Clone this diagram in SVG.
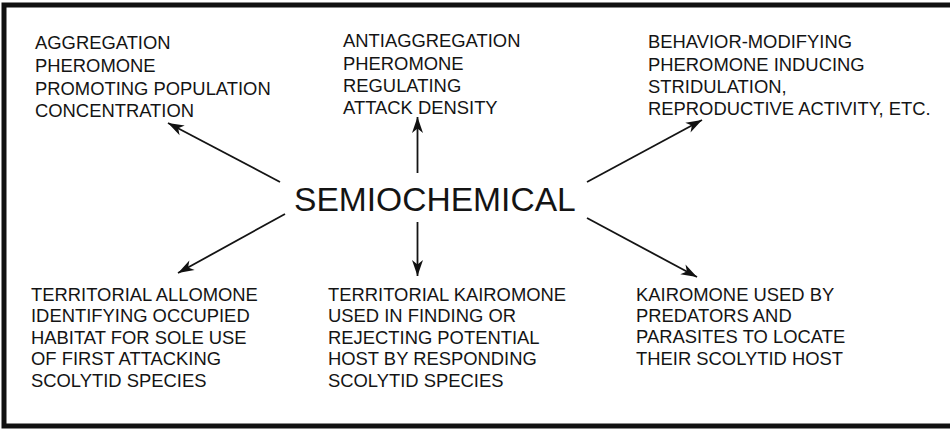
<svg xmlns="http://www.w3.org/2000/svg" width="950" height="429" viewBox="0 0 950 429">
<defs>
<marker id="ah" markerUnits="userSpaceOnUse" markerWidth="20" markerHeight="16" refX="0" refY="0" viewBox="-16 -8 17 16" orient="auto" overflow="visible">
<path d="M0,0 L-16,-5.5 L-11.5,0 L-16,5.5 Z" fill="#111"/>
</marker>
<style>
.t{font-family:"Liberation Sans",Arial,sans-serif;font-size:18.4px;fill:#141414}
.c{font-family:"Liberation Sans",Arial,sans-serif;font-size:33.6px;fill:#141414}
.a{stroke:#141414;stroke-width:1.8;fill:none;marker-end:url(#ah)}
</style>
</defs>
<rect x="0" y="0" width="950" height="429" fill="#fff"/>
<rect x="4" y="5" width="960" height="421" fill="none" stroke="#111" stroke-width="5"/>
<g id="center"><text class="c" x="294" y="211">SEMIOCHEMICAL</text></g>
<g id="aggregation"><text class="t" x="35" y="49">AGGREGATION</text><text class="t" x="35" y="72">PHEROMONE</text><text class="t" x="35" y="94.5">PROMOTING POPULATION</text><text class="t" x="35" y="117">CONCENTRATION</text></g>
<g id="antiaggregation"><text class="t" x="343" y="47">ANTIAGGREGATION</text><text class="t" x="343" y="70">PHEROMONE</text><text class="t" x="343" y="92">REGULATING</text><text class="t" x="343" y="114">ATTACK DENSITY</text></g>
<g id="behavior"><text class="t" x="648" y="48">BEHAVIOR-MODIFYING</text><text class="t" x="648" y="70.5">PHEROMONE INDUCING</text><text class="t" x="648" y="92.5">STRIDULATION,</text><text class="t" x="648" y="115">REPRODUCTIVE ACTIVITY, ETC.</text></g>
<g id="allomone"><text class="t" x="31" y="301">TERRITORIAL ALLOMONE</text><text class="t" x="31" y="322">IDENTIFYING OCCUPIED</text><text class="t" x="31" y="343.5">HABITAT FOR SOLE USE</text><text class="t" x="31" y="365">OF FIRST ATTACKING</text><text class="t" x="31" y="386.5">SCOLYTID SPECIES</text></g>
<g id="kairomone-territorial"><text class="t" x="328" y="301">TERRITORIAL KAIROMONE</text><text class="t" x="328" y="322">USED IN FINDING OR</text><text class="t" x="328" y="343.5">REJECTING POTENTIAL</text><text class="t" x="328" y="365">HOST BY RESPONDING</text><text class="t" x="328" y="386.5">SCOLYTID SPECIES</text></g>
<g id="kairomone-predators"><text class="t" x="636" y="301">KAIROMONE USED BY</text><text class="t" x="636" y="322">PREDATORS AND</text><text class="t" x="636" y="343">PARASITES TO LOCATE</text><text class="t" x="636" y="364.5">THEIR SCOLYTID HOST</text></g>
<g id="connectors">
<line class="a" x1="280" y1="182" x2="168" y2="123"/>
<line class="a" x1="417.5" y1="173" x2="417.5" y2="117"/>
<line class="a" x1="587" y1="182" x2="702" y2="120"/>
<line class="a" x1="285" y1="214" x2="178" y2="273"/>
<line class="a" x1="417.5" y1="222" x2="417.5" y2="276"/>
<line class="a" x1="587" y1="218" x2="697" y2="277"/>
</g>
</svg>
